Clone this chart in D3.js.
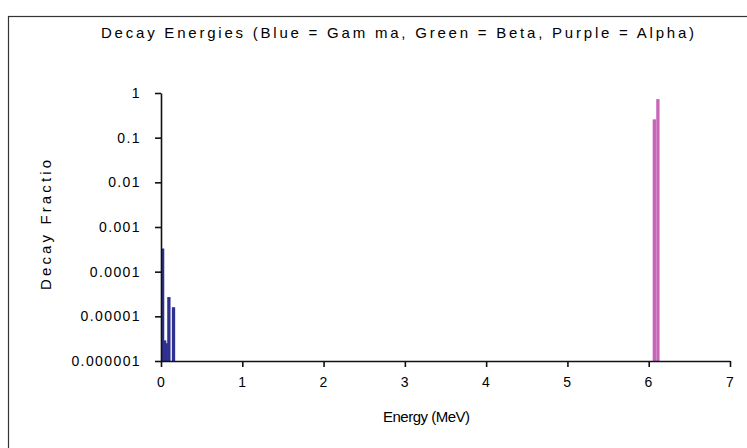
<!DOCTYPE html>
<html>
<head>
<meta charset="utf-8">
<script src="https://cdn.jsdelivr.net/npm/d3@7"></script>
<style>
    body { margin: 0; background: #fff; }
    text { font-family: "Liberation Sans", Arial, sans-serif; fill: #000; }
</style>
</head>
<body>
<svg id="chart" width="747" height="448"></svg>
<script>
// gamma lines (MeV, fraction)
const gammaEnergy = [0.02, 0.045, 0.065, 0.097, 0.154];
const gammaFrac = [3.3e-4, 2.9e-6, 2.5e-6, 2.7e-5, 1.6e-5];
// alpha lines
const alphaEnergy = [6.069, 6.113];
const alphaFrac = [0.257, 0.73];

const xTicks = [0, 1, 2, 3, 4, 5, 6, 7];
const yTicks = [1, 0.1, 0.01, 0.001, 0.0001, 0.00001, 0.000001];
const yTickLabels = ["1", "0.1", "0.01", "0.001", "0.0001", "0.00001", "0.000001"];

const svg = d3.select("#chart");

// outer frame
svg.append("rect")
    .attr("x", 8.5).attr("y", 16.5)
    .attr("width", 800).attr("height", 500)
    .attr("fill", "none").attr("stroke", "#333").attr("stroke-width", 1.2);

const x = d3.scaleLinear().domain([0, 7]).range([161, 730]);
const y = d3.scaleLog().domain([1e-6, 1]).range([361, 93]);

const barW = 3.3;

svg.append("g").selectAll("rect")
    .data(gammaEnergy)
    .join("rect")
    .attr("x", d => x(d) - barW / 2)
    .attr("width", barW)
    .attr("y", (d, i) => y(gammaFrac[i]))
    .attr("height", (d, i) => y(1e-6) - y(gammaFrac[i]))
    .attr("fill", "#2e3192");

svg.append("g").selectAll("rect")
    .data(alphaEnergy)
    .join("rect")
    .attr("x", d => x(d) - barW / 2)
    .attr("width", barW)
    .attr("y", (d, i) => y(alphaFrac[i]))
    .attr("height", (d, i) => y(1e-6) - y(alphaFrac[i]))
    .attr("fill", "#c965b6");

const xAxis = svg.append("g")
    .attr("transform", `translate(0,${y(1e-6)})`)
    .call(d3.axisBottom(x).tickValues(xTicks).tickSize(6).tickSizeOuter(0).tickPadding(10).tickFormat(d3.format("d")));

const yAxis = svg.append("g")
    .attr("transform", `translate(${x(0)},0)`)
    .call(d3.axisLeft(y).tickValues(yTicks).tickSize(6).tickSizeOuter(0).tickPadding(14)
        .tickFormat((d, i) => yTickLabels[i]));

[xAxis, yAxis].forEach(g => {
    g.selectAll("path, line").attr("stroke", "#111").attr("stroke-width", 1.6);
    g.selectAll("text")
        .style("font-family", "'Liberation Sans', Arial, sans-serif")
        .attr("font-size", 14)
        .attr("letter-spacing", "1.4px")
        .attr("fill", "#000");
});

// title
svg.append("text")
    .attr("x", 101).attr("y", 38)
    .attr("font-size", 15)
    .attr("textLength", 593).attr("lengthAdjust", "spacing")
    .text("Decay Energies (Blue = Gam ma,  Green = Beta, Purple = Alpha)");

// axis titles
svg.append("text")
    .attr("x", 383).attr("y", 422)
    .attr("font-size", 15)
    .attr("textLength", 87).attr("lengthAdjust", "spacing")
    .text("Energy (MeV)");

svg.append("text")
    .attr("transform", "translate(51,290) rotate(-90)")
    .attr("font-size", 15)
    .attr("textLength", 130).attr("lengthAdjust", "spacing")
    .text("Decay Fractio");
</script>
</body>
</html>
